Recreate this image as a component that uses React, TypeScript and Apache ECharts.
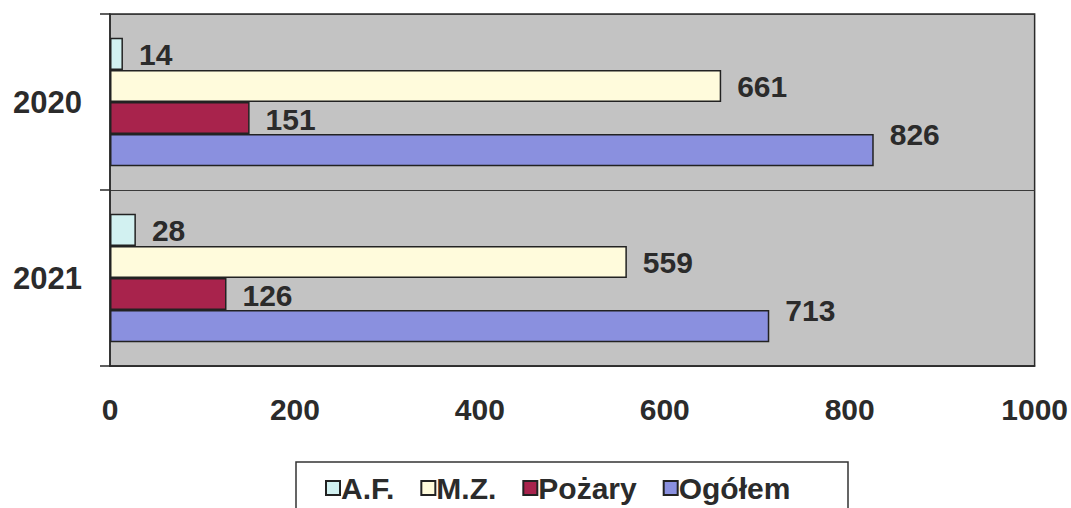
import React, { useEffect, useRef } from "react";
import * as echarts from "echarts";

const categories = ["2020", "2021"];
const seriesNames = ["A.F.", "M.Z.", "Pożary", "Ogółem"];
const afValues = [14, 28];
const mzValues = [661, 559];
const pozaryValues = [151, 126];
const ogolemValues = [826, 713];
const xTicks = [0, 200, 400, 600, 800, 1000];

const FONT = "'Liberation Sans', Arial, sans-serif";
const TEXT = "#2b2b2b";

export default function App() {
  const ref = useRef<HTMLDivElement>(null);
  useEffect(() => {
    if (!ref.current) return;
    const chart = echarts.init(ref.current, null, { renderer: "svg" });
    const colors = ["#d2f1f1", "#fffbdc", "#a8234c", "#8a90df"];
    const values = [afValues, mzValues, pozaryValues, ogolemValues];
    const labelOffsets = [
      [2, 1],
      [2, 1],
      [2, 1],
      [2, -16],
    ];
    chart.setOption({
      animation: false,
      backgroundColor: "#ffffff",
      grid: {
        left: 110,
        right: 34,
        top: 14,
        bottom: 142,
        show: true,
        backgroundColor: "#c3c3c3",
        borderColor: "#2a2a2a",
        borderWidth: 1.5,
      },
      legend: {
        data: seriesNames,
        left: 320,
        top: 468,
        itemWidth: 14,
        itemHeight: 14,
        itemGap: 26,
        icon: "rect",
        textStyle: {
          fontFamily: FONT,
          fontWeight: "bold",
          fontSize: 30,
          color: TEXT,
          padding: [0, 0, 0, -4],
        },
      },
      graphic: [
        {
          type: "rect",
          shape: { x: 296, y: 462, width: 552, height: 60 },
          style: { fill: "#ffffff", stroke: "#333333", lineWidth: 1.5 },
          z: -1,
        },
      ],
      xAxis: {
        type: "value",
        min: xTicks[0],
        max: xTicks[xTicks.length - 1],
        interval: 200,
        axisLine: { show: true, lineStyle: { color: "#2a2a2a", width: 1.5 } },
        axisTick: { show: false },
        splitLine: { show: false },
        axisLabel: {
          margin: 28,
          fontFamily: FONT,
          fontWeight: "bold",
          fontSize: 30,
          color: TEXT,
          formatter: (v: number) => String(v),
        },
      },
      yAxis: {
        type: "category",
        inverse: true,
        data: categories,
        axisLine: { show: true, lineStyle: { color: "#2a2a2a", width: 1.5 } },
        axisTick: { show: true, length: 10, lineStyle: { color: "#2a2a2a", width: 1.5 } },
        splitLine: { show: true, lineStyle: { color: "#3a3a3a", width: 1 } },
        axisLabel: {
          margin: 28,
          fontFamily: FONT,
          fontWeight: "bold",
          fontSize: 31,
          color: TEXT,
        },
      },
      series: seriesNames.map((name, i) => ({
        name,
        type: "bar",
        data: values[i],
        barGap: "0%",
        barCategoryGap: "27%",
        itemStyle: {
          color: colors[i],
          borderColor: "#222222",
          borderWidth: 1.5,
        },
        label: {
          show: true,
          position: "right",
          distance: 14,
          offset: labelOffsets[i],
          fontFamily: FONT,
          fontWeight: "bold",
          fontSize: 30,
          color: TEXT,
        },
      })),
    });
    return () => chart.dispose();
  }, []);
  return (
    <div
      ref={ref}
      style={{ position: "fixed", left: 0, top: 0, width: 1071, height: 508 }}
    />
  );
}
